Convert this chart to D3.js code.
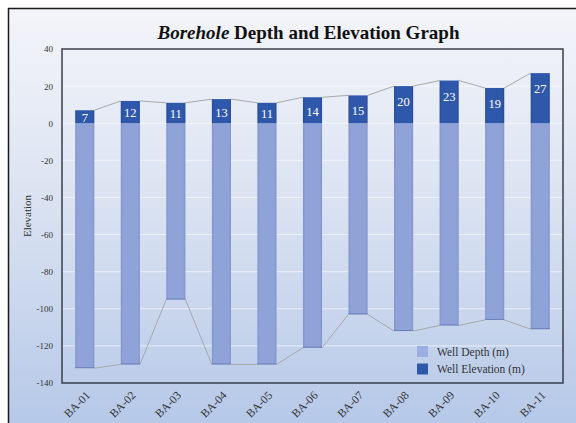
<!DOCTYPE html>
<html><head><meta charset="utf-8">
<script src="https://cdn.jsdelivr.net/npm/d3@7"></script>
<style>html,body{margin:0;padding:0;background:#fff;}svg{display:block;}</style>
</head><body><svg id="c" width="576" height="423"></svg>
<script>
const categories = ["BA-01","BA-02","BA-03","BA-04","BA-05","BA-06","BA-07","BA-08","BA-09","BA-10","BA-11"];
const elevation = [7,12,11,13,11,14,15,20,23,19,27];
const depth = [132,130,95,130,130,121,103,112,109,106,111];
const yTicks = [40,20,0,-20,-40,-60,-80,-100,-120,-140];
const seriesNames = ["Well Depth (m)","Well Elevation (m)"];

const svg = d3.select("#c");
const W=576,H=423;
const px0=62,px1=563,py0=49,py1=383;
const SERIF="'Liberation Serif', 'Times New Roman', serif";
const defs=svg.append("defs");
const bg=defs.append("linearGradient").attr("id","bg").attr("x1",0).attr("y1",0).attr("x2",0).attr("y2",1);
bg.append("stop").attr("offset","0%").attr("stop-color","#f4f5fa");
bg.append("stop").attr("offset","45%").attr("stop-color","#dbe3f2");
bg.append("stop").attr("offset","100%").attr("stop-color","#b5c8e8");
const dg=defs.append("linearGradient").attr("id","dg").attr("x1",0).attr("y1",0).attr("x2",1).attr("y2",0);
dg.append("stop").attr("offset","0%").attr("stop-color","#8194cc");
dg.append("stop").attr("offset","12%").attr("stop-color","#8fa3d9");
dg.append("stop").attr("offset","88%").attr("stop-color","#8fa3d9");
dg.append("stop").attr("offset","100%").attr("stop-color","#8194cc");
const eg=defs.append("linearGradient").attr("id","eg").attr("x1",0).attr("y1",0).attr("x2",1).attr("y2",0);
eg.append("stop").attr("offset","0%").attr("stop-color","#264c9c");
eg.append("stop").attr("offset","12%").attr("stop-color","#2f58aa");
eg.append("stop").attr("offset","88%").attr("stop-color","#2f58aa");
eg.append("stop").attr("offset","100%").attr("stop-color","#264c9c");

svg.append("rect").attr("x",8).attr("y",8).attr("width",W).attr("height",H).attr("fill","url(#bg)");
svg.append("line").attr("x1",8).attr("x2",W).attr("y1",8.5).attr("y2",8.5).attr("stroke","#1a1a1a").attr("stroke-width",1.5);
svg.append("line").attr("x1",8.5).attr("x2",8.5).attr("y1",8).attr("y2",H).attr("stroke","#1a1a1a").attr("stroke-width",1.5);

const x=d3.scaleBand().domain(categories).range([px0,px1]).paddingInner(0.58).paddingOuter(0.29);
const y=d3.scaleLinear().domain([-140,40]).range([py1,py0]);

// gridlines
svg.append("g").selectAll("line").data(yTicks.filter(t=>t!==40&&t!==-140)).join("line")
 .attr("x1",px0).attr("x2",px1).attr("y1",d=>y(d)).attr("y2",d=>y(d))
 .attr("stroke","#ffffff").attr("stroke-opacity",0.6).attr("stroke-width",1);

// series lines
const bw=x.bandwidth();
const sl=svg.append("g").attr("stroke","#a9a9a9").attr("stroke-width",1).attr("fill","none");
for(let i=0;i<categories.length-1;i++){
  const xa=x(categories[i])+bw, xb=x(categories[i+1]);
  sl.append("line").attr("x1",xa).attr("x2",xb).attr("y1",y(elevation[i])).attr("y2",y(elevation[i+1]));
  sl.append("line").attr("x1",xa).attr("x2",xb).attr("y1",y(-depth[i])).attr("y2",y(-depth[i+1]));
}

// bars
svg.append("g").selectAll("rect").data(categories).join("rect")
 .attr("x",d=>x(d)).attr("width",bw)
 .attr("y",y(0)).attr("height",(d,i)=>y(-depth[i])-y(0))
 .attr("fill","url(#dg)");
svg.append("g").selectAll("rect").data(categories).join("rect")
 .attr("x",d=>x(d)).attr("width",bw)
 .attr("y",(d,i)=>y(elevation[i])).attr("height",(d,i)=>y(0)-y(elevation[i]))
 .attr("fill","url(#eg)");
svg.append("g").selectAll("line").data(categories).join("line")
 .attr("x1",d=>x(d)).attr("x2",d=>x(d)+bw).attr("y1",(d,i)=>y(-depth[i])-0.5).attr("y2",(d,i)=>y(-depth[i])-0.5)
 .attr("stroke","#6c7fb8").attr("stroke-width",1);

// labels
svg.append("g").selectAll("text").data(categories).join("text")
 .attr("x",d=>x(d)+bw/2)
 .attr("y",(d,i)=>{const t=y(elevation[i]);const h=y(0)-t;return t+Math.min(h/2+1,16);})
 .attr("dy","0.35em").attr("text-anchor","middle")
 .style("font-family",SERIF).attr("font-size",12.5).attr("fill","#ffffff")
 .text((d,i)=>elevation[i]);

// plot border
svg.append("rect").attr("x",px0).attr("y",py0).attr("width",px1-px0).attr("height",py1-py0)
 .attr("fill","none").attr("stroke","#3a3f4a").attr("stroke-width",1.5);

// y axis labels
const ya=svg.append("g").attr("transform",`translate(${px0},0)`)
 .call(d3.axisLeft(y).tickValues(yTicks).tickFormat(d=>String(d)).tickSize(0).tickPadding(9));
ya.select(".domain").remove();
ya.selectAll("text").style("font-family",SERIF).attr("font-size",9).attr("fill","#333");

// x axis labels
const xa=svg.append("g").attr("transform",`translate(0,${py1})`)
 .call(d3.axisBottom(x).tickSize(0).tickPadding(0));
xa.select(".domain").remove();
xa.selectAll("text").style("font-family",SERIF).attr("font-size",11.5).attr("fill","#333")
 .attr("text-anchor","end").attr("dy",0)
 .attr("transform","translate(6,13) rotate(-45)");

// y title
svg.append("text").attr("transform",`translate(31,${(py0+py1)/2}) rotate(-90)`)
 .attr("text-anchor","middle").style("font-family",SERIF).attr("font-size",11).attr("fill","#333")
 .text("Elevation");

// chart title
const tt=svg.append("text").attr("x",(px0+px1)/2-4).attr("y",39).attr("text-anchor","middle")
 .style("font-family",SERIF).attr("font-size",19).attr("font-weight","bold").attr("fill","#111");
tt.append("tspan").attr("font-style","italic").text("Borehole");
tt.append("tspan").text(" Depth and Elevation Graph");

// legend
const lg=svg.append("g");
const lc=["#9bb0e0","#2f58aa"];
seriesNames.forEach((n,i)=>{
  lg.append("rect").attr("x",417).attr("y",346+i*17.5).attr("width",11).attr("height",11).attr("fill",lc[i]);
  lg.append("text").attr("x",437).attr("y",351.5+i*17.5).attr("dy","0.35em")
   .style("font-family",SERIF).attr("font-size",11.5).attr("fill","#333").text(n);
});
</script></body></html>
